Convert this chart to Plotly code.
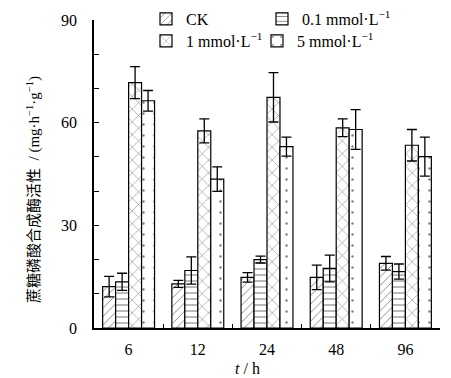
import plotly.graph_objects as go

times = ["6", "12", "24", "48", "96"]
series_names = ["CK", "0.1 mmol·L<sup>−1</sup>", "1 mmol·L<sup>−1</sup>", "5 mmol·L<sup>−1</sup>"]
ck = [12.1, 12.9, 14.8, 14.8, 18.9]
ck_err = [3.0, 1.0, 1.4, 3.6, 2.0]
c01 = [13.5, 16.8, 20.0, 17.4, 16.5]
c01_err = [2.5, 4.0, 1.0, 3.9, 2.2]
c1 = [71.7, 57.6, 67.4, 58.5, 53.4]
c1_err = [4.7, 3.5, 7.2, 2.6, 4.6]
c5 = [66.4, 43.5, 53.0, 58.0, 50.1]
c5_err = [3.0, 3.6, 2.8, 5.8, 5.7]
y_ticks = [0, 30, 60, 90]

FONT = "Liberation Serif, Times New Roman, Noto Sans CJK SC, serif"

# page body has an 8px margin; figure placed at (8, 8)
OFF = 8
W, H = 451 - OFF, 378 - OFF
L, R, T, B = 94 - OFF, 11, 20 - OFF, 50
pw, ph = W - L - R, H - T - B

patterns = [
    dict(shape="/", size=6, solidity=0.15, fgcolor="black", bgcolor="white"),
    dict(shape="-", size=6, solidity=0.18, fgcolor="black", bgcolor="white"),
    dict(shape="x", size=9, solidity=0.12, fgcolor="black", bgcolor="white"),
    dict(shape=".", size=11, solidity=0.04, fgcolor="black", bgcolor="white"),
]
legends = ["legend", "legend2", "legend3", "legend4"]
# legend text start positions (page px) and row centers
leg_pos = [(186, 19), (302, 19), (186, 41), (297, 41)]

fig = go.Figure()
for name, vals, errs, pat, lg in zip(series_names, [ck, c01, c1, c5],
                                     [ck_err, c01_err, c1_err, c5_err], patterns, legends):
    fig.add_trace(go.Bar(
        x=times, y=vals, name=name,
        marker=dict(color="white", line=dict(color="black", width=1.2), pattern=pat),
        error_y=dict(type="data", array=errs, visible=True, color="black", thickness=1.3, width=5),
        legend=lg,
    ))

legend_layout = {}
for lg, (tx, ty) in zip(legends, leg_pos):
    legend_layout[lg] = dict(
        orientation="h", xref="container", yref="container",
        x=(tx - 40 - OFF) / W, y=1 - (ty - OFF) / H,
        xanchor="left", yanchor="middle", bgcolor="rgba(0,0,0,0)",
        font=dict(family=FONT, size=16, color="black"), itemwidth=30,
    )

fig.update_layout(
    width=W, height=H,
    margin=dict(l=L, r=R, t=T, b=B, autoexpand=False),
    paper_bgcolor="white", plot_bgcolor="white",
    barmode="group", bargap=0.25, bargroupgap=0,
    font=dict(family=FONT, size=16, color="black"),
    xaxis=dict(
        type="category", showline=True, linecolor="black", linewidth=1.5,
        ticks="inside", ticklen=4, tickcolor="black", tickson="boundaries",
        tickfont=dict(family=FONT, size=16, color="black"), showgrid=False,
        ticklabelstandoff=6,
    ),
    yaxis=dict(
        range=[0, 90], tickvals=y_ticks, showline=True, linecolor="black", linewidth=1.5,
        ticks="inside", ticklen=5, tickcolor="black", showgrid=False, zeroline=False,
        minor=dict(dtick=10, ticks="inside", ticklen=5, tickcolor="black", showgrid=False),
        tickfont=dict(family=FONT, size=16, color="black"), ticklabelstandoff=12,
    ),
    showlegend=True,
    **legend_layout,
)

fig.add_annotation(
    text="<i>t</i> / h", xref="paper", yref="paper",
    x=(247 - OFF - L) / pw, y=-(368 - OFF - (T + ph)) / ph, showarrow=False,
    font=dict(family=FONT, size=16, color="black"), xanchor="center", yanchor="middle",
)
fig.add_annotation(
    text="蔗糖磷酸合成酶活性  / (mg·h<sup>−1</sup>·g<sup>−1</sup>)",
    xref="paper", yref="paper",
    x=(33 - OFF - L) / pw, y=((T + ph) - (190 - OFF)) / ph, showarrow=False, textangle=-90,
    font=dict(family=FONT, size=15, color="black"), xanchor="center", yanchor="middle",
)

fig.write_html("out.html")
